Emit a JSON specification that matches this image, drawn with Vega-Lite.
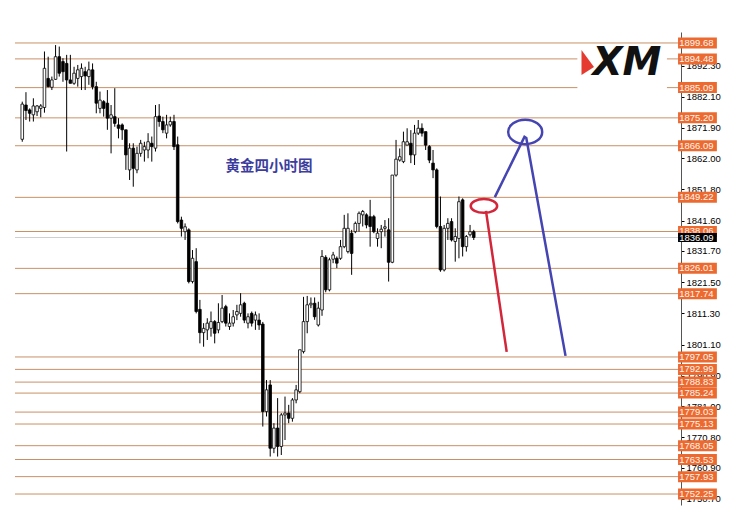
{
  "$schema": "https://vega.github.io/schema/vega-lite/v6.json",
  "width": 666,
  "height": 473,
  "autosize": {"type": "none"},
  "padding": {"left": 15, "top": 32, "right": 64, "bottom": 18},
  "background": "white",
  "config": {"view": {"stroke": null}},
  "resolve": {"axis": {"y": "independent", "x": "independent"}},
  "datasets": {
    "levels": [
      {"p": 1899.68}, {"p": 1894.48}, {"p": 1885.09}, {"p": 1875.20}, {"p": 1866.09},
      {"p": 1849.22}, {"p": 1838.06}, {"p": 1826.01}, {"p": 1817.74}, {"p": 1797.05},
      {"p": 1792.99}, {"p": 1788.83}, {"p": 1785.24}, {"p": 1779.03}, {"p": 1775.13},
      {"p": 1768.05}, {"p": 1763.53}, {"p": 1757.93}, {"p": 1752.25}
    ],
    "candles": [
      {"i":0,"o":1868.2,"h":1880.5,"l":1867.4,"c":1879.7},
      {"i":1,"o":1879.4,"h":1883.6,"l":1874.5,"c":1877.6},
      {"i":2,"o":1877.8,"h":1878.3,"l":1874.0,"c":1876.7},
      {"i":3,"o":1876.2,"h":1881.6,"l":1874.0,"c":1879.1},
      {"i":4,"o":1877.2,"h":1879.4,"l":1875.8,"c":1879.1},
      {"i":5,"o":1878.3,"h":1879.7,"l":1875.4,"c":1879.1},
      {"i":6,"o":1878.6,"h":1896.9,"l":1876.9,"c":1891.4},
      {"i":7,"o":1888.1,"h":1895.2,"l":1885.2,"c":1885.4},
      {"i":8,"o":1885.2,"h":1888.7,"l":1884.3,"c":1887.6},
      {"i":9,"o":1887.8,"h":1899.0,"l":1887.6,"c":1895.2},
      {"i":10,"o":1895.2,"h":1898.5,"l":1888.7,"c":1889.8},
      {"i":11,"o":1893.6,"h":1894.7,"l":1887.0,"c":1890.3},
      {"i":12,"o":1893.0,"h":1895.8,"l":1864.2,"c":1887.6},
      {"i":13,"o":1887.6,"h":1895.8,"l":1886.5,"c":1886.5},
      {"i":14,"o":1886.5,"h":1891.9,"l":1886.0,"c":1889.8},
      {"i":15,"o":1888.1,"h":1892.5,"l":1885.4,"c":1890.9},
      {"i":16,"o":1888.7,"h":1893.0,"l":1884.3,"c":1891.4},
      {"i":17,"o":1890.3,"h":1891.9,"l":1884.3,"c":1888.9},
      {"i":18,"o":1888.7,"h":1893.6,"l":1886.0,"c":1890.9},
      {"i":19,"o":1890.9,"h":1893.0,"l":1884.5,"c":1885.4},
      {"i":20,"o":1885.4,"h":1887.0,"l":1876.7,"c":1880.0},
      {"i":21,"o":1878.3,"h":1883.8,"l":1876.7,"c":1881.0},
      {"i":22,"o":1880.5,"h":1881.0,"l":1875.6,"c":1878.3},
      {"i":23,"o":1880.0,"h":1884.3,"l":1871.3,"c":1875.1},
      {"i":24,"o":1875.1,"h":1879.4,"l":1863.6,"c":1876.2},
      {"i":25,"o":1875.6,"h":1884.9,"l":1872.3,"c":1873.4},
      {"i":26,"o":1872.9,"h":1875.1,"l":1868.5,"c":1871.8},
      {"i":27,"o":1872.9,"h":1873.4,"l":1868.0,"c":1871.3},
      {"i":28,"o":1871.3,"h":1871.3,"l":1858.2,"c":1863.1},
      {"i":29,"o":1858.2,"h":1866.9,"l":1854.9,"c":1865.3},
      {"i":30,"o":1865.3,"h":1866.9,"l":1852.7,"c":1858.7},
      {"i":31,"o":1858.2,"h":1865.8,"l":1857.1,"c":1863.6},
      {"i":32,"o":1863.6,"h":1868.0,"l":1862.5,"c":1866.9},
      {"i":33,"o":1864.7,"h":1867.4,"l":1860.9,"c":1865.8},
      {"i":34,"o":1864.7,"h":1870.2,"l":1862.0,"c":1867.4},
      {"i":35,"o":1866.9,"h":1869.1,"l":1860.9,"c":1865.8},
      {"i":36,"o":1865.3,"h":1879.4,"l":1864.2,"c":1875.6},
      {"i":37,"o":1875.8,"h":1879.7,"l":1872.3,"c":1874.0},
      {"i":38,"o":1874.0,"h":1875.6,"l":1870.2,"c":1871.3},
      {"i":39,"o":1870.2,"h":1876.2,"l":1868.5,"c":1872.9},
      {"i":40,"o":1872.9,"h":1875.6,"l":1872.3,"c":1874.0},
      {"i":41,"o":1874.0,"h":1876.2,"l":1864.7,"c":1865.8},
      {"i":42,"o":1866.4,"h":1869.1,"l":1840.7,"c":1841.3},
      {"i":43,"o":1841.8,"h":1842.9,"l":1836.4,"c":1839.1},
      {"i":44,"o":1838.0,"h":1840.7,"l":1835.3,"c":1839.6},
      {"i":45,"o":1838.6,"h":1839.1,"l":1821.1,"c":1821.7},
      {"i":46,"o":1821.7,"h":1832.0,"l":1821.1,"c":1829.3},
      {"i":47,"o":1828.2,"h":1832.6,"l":1811.3,"c":1811.9},
      {"i":48,"o":1812.6,"h":1815.7,"l":1801.5,"c":1805.0},
      {"i":49,"o":1805.0,"h":1808.1,"l":1800.4,"c":1806.4},
      {"i":50,"o":1805.9,"h":1809.7,"l":1802.6,"c":1808.1},
      {"i":51,"o":1806.4,"h":1811.9,"l":1803.7,"c":1808.6},
      {"i":52,"o":1808.6,"h":1809.1,"l":1801.5,"c":1804.8},
      {"i":53,"o":1805.9,"h":1814.6,"l":1804.8,"c":1808.3},
      {"i":54,"o":1808.6,"h":1817.3,"l":1808.1,"c":1813.0},
      {"i":55,"o":1813.5,"h":1814.1,"l":1807.0,"c":1808.1},
      {"i":56,"o":1807.0,"h":1811.3,"l":1805.9,"c":1808.1},
      {"i":57,"o":1808.1,"h":1812.4,"l":1807.0,"c":1810.2},
      {"i":58,"o":1810.8,"h":1814.1,"l":1809.1,"c":1811.9},
      {"i":59,"o":1811.3,"h":1817.9,"l":1810.2,"c":1814.1},
      {"i":60,"o":1814.6,"h":1815.1,"l":1808.1,"c":1809.1},
      {"i":61,"o":1808.1,"h":1811.3,"l":1806.4,"c":1810.2},
      {"i":62,"o":1811.3,"h":1811.9,"l":1807.0,"c":1808.1},
      {"i":63,"o":1809.1,"h":1811.9,"l":1805.9,"c":1810.8},
      {"i":64,"o":1809.1,"h":1811.3,"l":1805.9,"c":1807.5},
      {"i":65,"o":1807.8,"h":1808.5,"l":1774.3,"c":1779.2},
      {"i":66,"o":1779.2,"h":1789.5,"l":1777.6,"c":1786.3},
      {"i":67,"o":1787.9,"h":1789.5,"l":1764.5,"c":1767.2},
      {"i":68,"o":1767.2,"h":1775.4,"l":1765.6,"c":1773.8},
      {"i":69,"o":1773.8,"h":1783.6,"l":1764.5,"c":1767.8},
      {"i":70,"o":1767.8,"h":1778.7,"l":1765.0,"c":1778.1},
      {"i":71,"o":1778.1,"h":1784.1,"l":1769.9,"c":1778.7},
      {"i":72,"o":1778.7,"h":1781.4,"l":1775.4,"c":1777.0},
      {"i":73,"o":1777.0,"h":1783.6,"l":1775.9,"c":1783.0},
      {"i":74,"o":1783.0,"h":1787.9,"l":1781.9,"c":1786.3},
      {"i":75,"o":1785.7,"h":1799.4,"l":1785.2,"c":1799.4},
      {"i":76,"o":1798.8,"h":1816.7,"l":1798.2,"c":1808.6},
      {"i":77,"o":1808.6,"h":1817.0,"l":1804.8,"c":1814.1},
      {"i":78,"o":1814.1,"h":1816.5,"l":1813.0,"c":1814.6},
      {"i":79,"o":1814.6,"h":1816.5,"l":1809.2,"c":1810.2},
      {"i":80,"o":1807.5,"h":1815.1,"l":1807.0,"c":1813.0},
      {"i":81,"o":1812.4,"h":1832.0,"l":1810.5,"c":1829.9},
      {"i":82,"o":1829.6,"h":1830.3,"l":1818.2,"c":1819.0},
      {"i":83,"o":1819.0,"h":1829.5,"l":1818.5,"c":1828.8},
      {"i":84,"o":1829.0,"h":1831.4,"l":1827.7,"c":1830.4},
      {"i":85,"o":1829.3,"h":1829.9,"l":1826.1,"c":1827.7},
      {"i":86,"o":1829.3,"h":1835.3,"l":1828.8,"c":1833.1},
      {"i":87,"o":1833.1,"h":1843.5,"l":1832.6,"c":1839.1},
      {"i":88,"o":1831.5,"h":1844.0,"l":1830.9,"c":1839.1},
      {"i":89,"o":1837.5,"h":1838.6,"l":1823.9,"c":1830.9},
      {"i":90,"o":1838.0,"h":1841.3,"l":1837.5,"c":1840.7},
      {"i":91,"o":1840.7,"h":1844.6,"l":1838.0,"c":1844.0},
      {"i":92,"o":1843.5,"h":1845.1,"l":1839.7,"c":1844.6},
      {"i":93,"o":1843.5,"h":1844.0,"l":1839.1,"c":1840.2},
      {"i":94,"o":1842.9,"h":1848.4,"l":1833.1,"c":1839.7},
      {"i":95,"o":1842.9,"h":1843.5,"l":1837.5,"c":1838.0},
      {"i":96,"o":1835.8,"h":1839.1,"l":1833.1,"c":1837.5},
      {"i":97,"o":1838.0,"h":1840.2,"l":1832.6,"c":1838.8},
      {"i":98,"o":1839.1,"h":1841.8,"l":1836.4,"c":1839.6},
      {"i":99,"o":1838.6,"h":1842.4,"l":1821.7,"c":1828.0},
      {"i":100,"o":1828.0,"h":1856.5,"l":1827.7,"c":1856.5},
      {"i":101,"o":1856.5,"h":1868.0,"l":1856.0,"c":1861.7},
      {"i":102,"o":1861.4,"h":1865.2,"l":1860.9,"c":1862.5},
      {"i":103,"o":1860.9,"h":1870.7,"l":1860.4,"c":1867.4},
      {"i":104,"o":1866.3,"h":1871.8,"l":1866.3,"c":1867.4},
      {"i":105,"o":1866.9,"h":1871.2,"l":1860.4,"c":1863.1},
      {"i":106,"o":1863.1,"h":1872.9,"l":1859.8,"c":1870.2},
      {"i":107,"o":1870.2,"h":1874.5,"l":1869.6,"c":1871.8},
      {"i":108,"o":1871.8,"h":1873.4,"l":1869.1,"c":1870.2},
      {"i":109,"o":1870.7,"h":1870.7,"l":1864.7,"c":1866.3},
      {"i":110,"o":1865.8,"h":1866.3,"l":1860.4,"c":1861.4},
      {"i":111,"o":1860.4,"h":1864.7,"l":1855.5,"c":1858.2},
      {"i":112,"o":1858.2,"h":1858.7,"l":1839.1,"c":1839.7},
      {"i":113,"o":1839.7,"h":1849.5,"l":1824.9,"c":1825.5},
      {"i":114,"o":1825.5,"h":1840.2,"l":1825.0,"c":1839.1},
      {"i":115,"o":1839.1,"h":1842.4,"l":1835.3,"c":1840.7},
      {"i":116,"o":1841.3,"h":1842.4,"l":1834.8,"c":1835.3},
      {"i":117,"o":1834.8,"h":1839.1,"l":1828.2,"c":1836.4},
      {"i":118,"o":1835.8,"h":1849.5,"l":1829.3,"c":1847.8},
      {"i":119,"o":1848.4,"h":1848.9,"l":1829.9,"c":1833.1},
      {"i":120,"o":1833.1,"h":1836.9,"l":1831.5,"c":1836.4},
      {"i":121,"o":1837.0,"h":1840.2,"l":1836.4,"c":1838.0},
      {"i":122,"o":1838.0,"h":1838.6,"l":1835.3,"c":1836.1}
    ],
    "redline": [{"i": 125.3, "p": 1844.8}, {"i": 130.9, "p": 1798.7}],
    "blueline": [{"i": 127.7, "p": 1849.3}, {"i": 135.7, "p": 1869.0}, {"i": 136.2, "p": 1868.6}, {"i": 146.8, "p": 1797.4}]
  },
  "layer": [
    {
      "data": {"name": "levels"},
      "mark": {"type": "rule", "color": "#c99067", "strokeWidth": 1},
      "encoding": {
        "y": {"field": "p", "type": "quantitative",
          "scale": {"domain": [1748.66, 1903.27], "nice": false, "zero": false},
          "axis": {"orient": "right", "title": null, "grid": false,
            "values": [1892.3, 1882.1, 1871.9, 1862.0, 1851.8, 1841.6, 1831.7, 1821.5, 1811.3, 1801.1, 1790.9, 1781.0, 1770.8, 1760.9, 1750.7],
            "format": ".2f", "labelFont": "Liberation Sans", "labelFontSize": 9.5, "labelColor": "#000000",
            "tickSize": 3, "tickColor": "#000000", "domainColor": "#555555", "labelPadding": 2, "labelFlush": false, "labelOverlap": false}}
      }
    },
    {
      "data": {"values": [{"p": 1836.09}]},
      "mark": {"type": "rule", "color": "#cfcfcf", "strokeWidth": 1},
      "encoding": {
        "y": {"field": "p", "type": "quantitative", "scale": {"domain": [1748.66, 1903.27], "nice": false, "zero": false}, "axis": null}
      }
    },
    {
      "data": {"name": "candles"},
      "mark": {"type": "rule", "color": "#000000", "strokeWidth": 1},
      "encoding": {
        "x": {"field": "i", "type": "quantitative", "scale": {"domain": [-0.61, 176.65], "nice": false, "zero": false}, "axis": null},
        "y": {"field": "l", "type": "quantitative", "scale": {"domain": [1748.66, 1903.27], "nice": false, "zero": false}, "axis": null},
        "y2": {"field": "h"}
      }
    },
    {
      "data": {"name": "candles"},
      "mark": {"type": "bar", "size": 2.6, "stroke": "#000000", "strokeWidth": 0.8},
      "encoding": {
        "x": {"field": "i", "type": "quantitative", "scale": {"domain": [-0.61, 176.65], "nice": false, "zero": false}, "axis": null},
        "y": {"field": "o", "type": "quantitative", "scale": {"domain": [1748.66, 1903.27], "nice": false, "zero": false}, "axis": null},
        "y2": {"field": "c"},
        "fill": {"condition": {"test": "datum.c >= datum.o", "value": "#ffffff"}, "value": "#000000"}
      }
    },
    {
      "data": {"values": [{"t": "黄金四小时图", "i": 66.7, "p": 1859.2}]},
      "mark": {"type": "text", "font": "Noto Sans CJK SC", "fontSize": 14.5, "fontWeight": "bold", "color": "#3d3d9e", "align": "center", "baseline": "middle"},
      "encoding": {
        "x": {"field": "i", "type": "quantitative", "scale": {"domain": [-0.61, 176.65], "nice": false, "zero": false}, "axis": null},
        "y": {"field": "p", "type": "quantitative", "scale": {"domain": [1748.66, 1903.27], "nice": false, "zero": false}, "axis": null},
        "text": {"field": "t"}
      }
    },
    {
      "data": {"values": [{"a": 150.0, "b": 174.2, "lo": 1882.7, "hi": 1898.4}]},
      "mark": {"type": "rect", "fill": "#ffffff"},
      "encoding": {
        "x": {"field": "a", "type": "quantitative", "scale": {"domain": [-0.61, 176.65], "nice": false, "zero": false}, "axis": null},
        "x2": {"field": "b"},
        "y": {"field": "lo", "type": "quantitative", "scale": {"domain": [1748.66, 1903.27], "nice": false, "zero": false}, "axis": null},
        "y2": {"field": "hi"}
      }
    },
    {
      "data": {"values": [{"t": "XM", "i": 154.1, "p": 1893.0}]},
      "mark": {"type": "text", "font": "DejaVu Sans", "fontSize": 39, "fontWeight": "bold", "fontStyle": "italic", "color": "#111111", "align": "left", "baseline": "middle"},
      "encoding": {
        "x": {"field": "i", "type": "quantitative", "scale": {"domain": [-0.61, 176.65], "nice": false, "zero": false}, "axis": null},
        "y": {"field": "p", "type": "quantitative", "scale": {"domain": [1748.66, 1903.27], "nice": false, "zero": false}, "axis": null},
        "text": {"field": "t"}
      }
    },
    {
      "data": {"values": [{"i": 152.8, "p": 1893.3}]},
      "mark": {"type": "point", "shape": "M -0.5 -1 L 0.5 0.35 L -0.5 1 Z", "size": 625, "filled": true, "color": "#e53a2f", "opacity": 1},
      "encoding": {
        "x": {"field": "i", "type": "quantitative", "scale": {"domain": [-0.61, 176.65], "nice": false, "zero": false}, "axis": null},
        "y": {"field": "p", "type": "quantitative", "scale": {"domain": [1748.66, 1903.27], "nice": false, "zero": false}, "axis": null}
      }
    },
    {
      "data": {"name": "redline"},
      "mark": {"type": "line", "color": "#d3263a", "strokeWidth": 2.5},
      "encoding": {
        "x": {"field": "i", "type": "quantitative", "scale": {"domain": [-0.61, 176.65], "nice": false, "zero": false}, "axis": null},
        "y": {"field": "p", "type": "quantitative", "scale": {"domain": [1748.66, 1903.27], "nice": false, "zero": false}, "axis": null}
      }
    },
    {
      "data": {"name": "blueline"},
      "mark": {"type": "line", "color": "#4444b2", "strokeWidth": 2.5},
      "encoding": {
        "x": {"field": "i", "type": "quantitative", "scale": {"domain": [-0.61, 176.65], "nice": false, "zero": false}, "axis": null},
        "y": {"field": "p", "type": "quantitative", "scale": {"domain": [1748.66, 1903.27], "nice": false, "zero": false}, "axis": null},
        "order": {"field": "i", "type": "quantitative"}
      }
    },
    {
      "data": {"values": [{"i": 124.75, "p": 1846.4}]},
      "mark": {"type": "point", "shape": "M -1 0 A 1 0.52 0 1 1 1 0 A 1 0.52 0 1 1 -1 0 Z", "size": 700, "filled": false, "stroke": "#d3263a", "strokeWidth": 2.5, "opacity": 1},
      "encoding": {
        "x": {"field": "i", "type": "quantitative", "scale": {"domain": [-0.61, 176.65], "nice": false, "zero": false}, "axis": null},
        "y": {"field": "p", "type": "quantitative", "scale": {"domain": [1748.66, 1903.27], "nice": false, "zero": false}, "axis": null}
      }
    },
    {
      "data": {"values": [{"i": 135.9, "p": 1870.6}]},
      "mark": {"type": "point", "shape": "M -1 0 A 1 0.72 0 1 1 1 0 A 1 0.72 0 1 1 -1 0 Z", "size": 1156, "filled": false, "stroke": "#4444b2", "strokeWidth": 2.5, "opacity": 1},
      "encoding": {
        "x": {"field": "i", "type": "quantitative", "scale": {"domain": [-0.61, 176.65], "nice": false, "zero": false}, "axis": null},
        "y": {"field": "p", "type": "quantitative", "scale": {"domain": [1748.66, 1903.27], "nice": false, "zero": false}, "axis": null}
      }
    },
    {
      "data": {"name": "levels"},
      "mark": {"type": "rule", "color": "#ec6a30", "strokeWidth": 11, "strokeCap": "butt"},
      "encoding": {
        "x": {"datum": 177.2, "type": "quantitative", "scale": {"domain": [-0.61, 176.65], "nice": false, "zero": false}, "axis": null},
        "x2": {"datum": 187.7},
        "y": {"field": "p", "type": "quantitative", "scale": {"domain": [1748.66, 1903.27], "nice": false, "zero": false}, "axis": null}
      }
    },
    {
      "data": {"name": "levels"},
      "mark": {"type": "text", "font": "Liberation Sans", "fontSize": 9.5, "color": "#fff4ee", "align": "left", "baseline": "middle"},
      "encoding": {
        "x": {"datum": 177.5, "type": "quantitative", "scale": {"domain": [-0.61, 176.65], "nice": false, "zero": false}, "axis": null},
        "y": {"field": "p", "type": "quantitative", "scale": {"domain": [1748.66, 1903.27], "nice": false, "zero": false}, "axis": null},
        "text": {"field": "p", "type": "quantitative", "format": ".2f"}
      }
    },
    {
      "data": {"values": [{"p": 1836.09}]},
      "mark": {"type": "rule", "color": "#000000", "strokeWidth": 9, "strokeCap": "butt"},
      "encoding": {
        "x": {"datum": 177.2, "type": "quantitative", "scale": {"domain": [-0.61, 176.65], "nice": false, "zero": false}, "axis": null},
        "x2": {"datum": 187.7},
        "y": {"field": "p", "type": "quantitative", "scale": {"domain": [1748.66, 1903.27], "nice": false, "zero": false}, "axis": null}
      }
    },
    {
      "data": {"values": [{"p": 1836.09}]},
      "mark": {"type": "text", "font": "Liberation Sans", "fontSize": 9.5, "color": "#ffffff", "align": "left", "baseline": "middle"},
      "encoding": {
        "x": {"datum": 177.5, "type": "quantitative", "scale": {"domain": [-0.61, 176.65], "nice": false, "zero": false}, "axis": null},
        "y": {"field": "p", "type": "quantitative", "scale": {"domain": [1748.66, 1903.27], "nice": false, "zero": false}, "axis": null},
        "text": {"field": "p", "type": "quantitative", "format": ".2f"}
      }
    }
  ]
}
